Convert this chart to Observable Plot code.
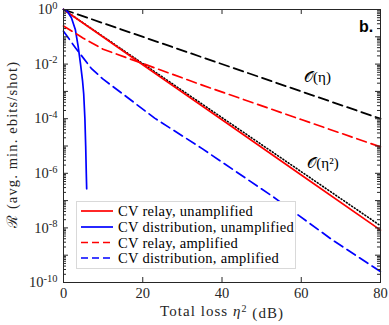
<!DOCTYPE html>
<html><head><meta charset="utf-8">
<script src="https://cdn.jsdelivr.net/npm/d3@7"></script>
<script src="https://cdn.jsdelivr.net/npm/@observablehq/plot@0.6"></script>
<style>body{margin:0;background:#fff}</style>
</head><body><div id="chart"></div>
<script>
// ---- data ----
const xTicks = [0, 20, 40, 60, 80];
const yLabelExponents = [0, -2, -4, -6, -8, -10];

const etaX = [0, 80];
const etaY = [1, 1e-4];                 // O(eta)
const eta2X = [0, 80];
const eta2Y = [1, 1.2e-8];              // O(eta^2)

const relayUnampX = [0, 10, 20, 40, 60, 80];
const relayUnampY = [1, 0.098, 9.5e-3, 9.1e-5, 8.7e-7, 8.3e-9];

const distUnampX = [0, 1, 2, 3, 3.7, 4.3, 4.8, 5.1, 5.4, 5.6, 5.75, 5.85];
const distUnampY = [1, 0.85, 0.5, 0.18, 0.045, 0.01, 2.5e-3, 8e-4, 1e-4, 1e-5, 1e-6, 2.7e-7];

const relayAmpX = [0, 5, 10, 20, 35, 60, 80];
const relayAmpY = [0.25, 0.089, 0.035, 0.0105, 1.7e-3, 9.3e-5, 9.3e-6];

const distAmpX = [0, 3, 7, 10, 15, 23, 35, 53, 68, 80];
const distAmpY = [0.16, 0.04, 7e-3, 2.8e-3, 8e-4, 1.05e-4, 8e-6, 1.35e-7, 3.5e-9, 2.5e-10];

const seriesNames = ["CV relay, unamplified", "CV distribution, unamplified", "CV relay, amplified", "CV distribution, amplified"];
const seriesColors = ["#ff0000", "#0000ff", "#ff0000", "#0000ff"];
const seriesDash = [null, null, "9,5", "9,5"];

const annotations = [
  {x: 64.1, y: 3.2e-3, text: "𝒪(η)"},
  {x: 65.5, y: 2.3e-6, text: "𝒪(η²)"}
];

// ---- build ----
const pts = (xs, ys) => xs.map((x, i) => ({x, y: ys[i]}));
const decades = d3.range(0, -11, -1).map(e => Math.pow(10, e));
const minors = [];
for (let e = -10; e < 0; e++) for (let m = 2; m <= 9; m++) minors.push(m * Math.pow(10, e));
const yLabelTicks = yLabelExponents.map(e => Math.pow(10, e));

const axisColor = "#262626";
const f = 1.524; // ~5px in log space
const lw = 1.7;

const plot = Plot.plot({
  width: 389, height: 325,
  marginLeft: 63, marginRight: 9, marginTop: 9, marginBottom: 43,
  style: {fontFamily: "Liberation Serif, serif", fontSize: "13px", background: "#fff", color: "#262626"},
  x: {domain: [0, 80]},
  y: {type: "log", domain: [1e-10, 1]},
  marks: [
    Plot.line(pts(etaX, etaY), {x: "x", y: "y", stroke: "#000", strokeWidth: 1.8, strokeDasharray: "10,5"}),
    Plot.line(pts(eta2X, eta2Y), {x: "x", y: "y", stroke: "#000", strokeWidth: 1.6, strokeDasharray: "1,2.2"}),
    Plot.line(pts(relayUnampX, relayUnampY), {x: "x", y: "y", stroke: seriesColors[0], strokeWidth: lw}),
    Plot.line(pts(distUnampX, distUnampY), {x: "x", y: "y", stroke: seriesColors[1], strokeWidth: lw}),
    Plot.line(pts(relayAmpX, relayAmpY), {x: "x", y: "y", stroke: seriesColors[2], strokeWidth: lw, strokeDasharray: "10,5"}),
    Plot.line(pts(distAmpX, distAmpY), {x: "x", y: "y", stroke: seriesColors[3], strokeWidth: lw, strokeDasharray: "10,5"}),
    // inward ticks
    Plot.ruleY(decades, {x1: 0, x2: 1.26, stroke: axisColor}),
    Plot.ruleY(decades, {x1: 80 - 1.26, x2: 80, stroke: axisColor}),
    Plot.ruleY(minors, {x1: 0, x2: 0.76, stroke: axisColor}),
    Plot.ruleY(minors, {x1: 80 - 0.76, x2: 80, stroke: axisColor}),
    Plot.ruleX(xTicks, {y1: 1e-10, y2: 1e-10 * f, stroke: axisColor}),
    Plot.ruleX(xTicks, {y1: 1, y2: 1 / f, stroke: axisColor}),
    Plot.frame({stroke: axisColor}),
    Plot.axisX({ticks: xTicks, tickSize: 0, tickPadding: 5, label: null, fontSize: 14.5}),
    Plot.axisY({ticks: yLabelTicks, tickSize: 0, tickPadding: 6, label: null, fontSize: 14.5,
      tickFormat: d => String(Math.round(Math.log10(d)))}),
    Plot.text(annotations, {x: "x", y: "y", text: "text", fontSize: 15, fill: "#000"})
  ]
});

const svg = d3.select(plot);
// superscript exponents for y tick labels
svg.selectAll('g[aria-label="y-axis tick label"] text').each(function() {
  const t = d3.select(this);
  const e = t.text();
  t.text("10");
  t.append("tspan").attr("dy", "-0.5em").attr("font-size", "10.5px").text(e);
});

// axis labels
const xl = svg.append("text").attr("x", 160).attr("y", 316).attr("text-anchor", "start")
  .attr("textLength", 123).attr("lengthAdjust", "spacing")
  .attr("font-family", "Liberation Serif, serif").attr("font-size", "15px").attr("fill", "#262626");
xl.append("tspan").text("Total loss ");
xl.append("tspan").attr("font-style", "italic").text("η");
xl.append("tspan").attr("dy", "-0.4em").attr("font-size", "10px").text("2");
xl.append("tspan").attr("dy", "0.4em").text(" (dB)");

const yl = svg.append("text").attr("transform", "translate(17,228) rotate(-90)").attr("text-anchor", "start")
  .attr("textLength", 166).attr("lengthAdjust", "spacing")
  .attr("font-family", "Liberation Serif, serif").attr("font-size", "14.5px").attr("fill", "#262626");
yl.append("tspan").text("ℛ");
yl.append("tspan").text(" (avg. min. ebits/shot)");

// panel tag
svg.append("text").attr("x", 366).attr("y", 32).attr("text-anchor", "middle")
  .attr("font-family", "Liberation Sans, Arial, sans-serif").attr("font-weight", "bold").attr("font-size", "16px")
  .attr("fill", "#000").text("b.");

// legend
const lg = svg.append("g");
lg.append("rect").attr("x", 76.5).attr("y", 201.5).attr("width", 219).attr("height", 67)
  .attr("fill", "#fff").attr("stroke", "#d9d9d9");
const rowY = [211, 227, 242.5, 258];
seriesNames.forEach((name, i) => {
  lg.append("line").attr("x1", 81).attr("x2", 113).attr("y1", rowY[i]).attr("y2", rowY[i])
    .attr("stroke", seriesColors[i]).attr("stroke-width", lw)
    .attr("stroke-dasharray", seriesDash[i] ? "7,4" : null);
  lg.append("text").attr("x", 118).attr("y", rowY[i]).attr("dy", "0.35em").attr("text-anchor", "start")
    .attr("letter-spacing", "0.3px")
    .attr("font-family", "Liberation Serif, serif").attr("font-size", "14.5px").attr("fill", "#000").text(name);
});

document.getElementById("chart").appendChild(plot);
</script></body></html>
